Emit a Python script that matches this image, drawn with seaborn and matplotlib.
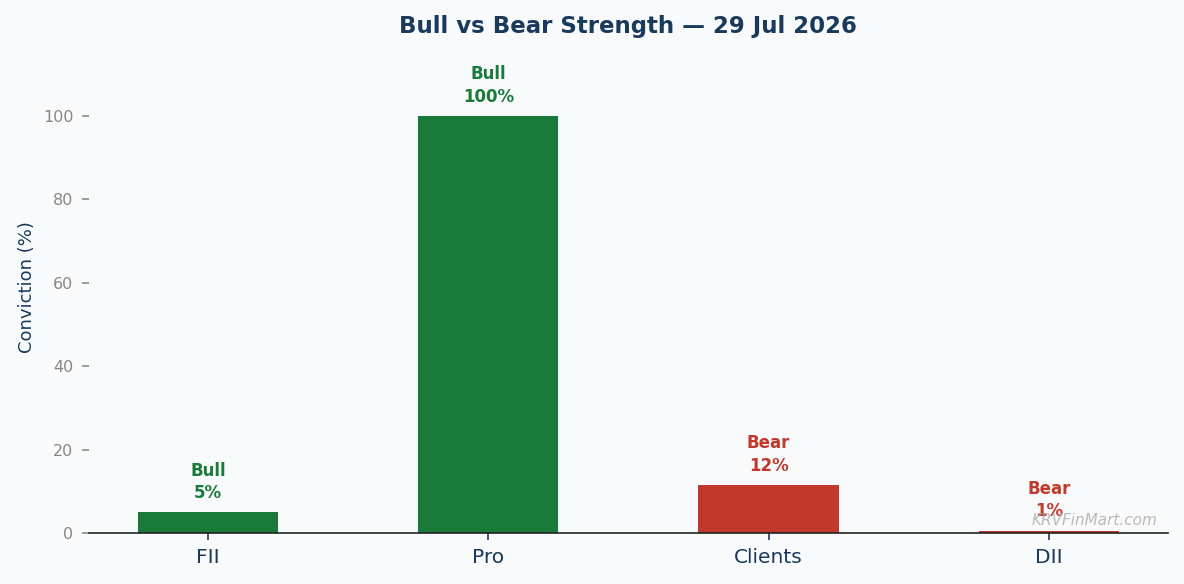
import matplotlib
matplotlib.use('Agg')
import matplotlib.pyplot as plt
import seaborn as sns
import pandas as pd

# Chart data
participants = ['FII', 'Pro', 'Clients', 'DII']
conviction = [5, 100, 11.5, 0.6]
sides = ['Bull', 'Bull', 'Bear', 'Bear']

df = pd.DataFrame({'participant': participants, 'conviction': conviction, 'side': sides})

bg = '#f8fafc'
navy = '#1a3a5c'
palette = {'Bull': '#1a7a3a', 'Bear': '#c0392b'}

sns.set_style('ticks')
plt.rcParams['font.family'] = ['DejaVu Sans']

fig, ax = plt.subplots(figsize=(11.84, 5.84), dpi=100)
fig.patch.set_facecolor(bg)
ax.set_facecolor(bg)

sns.barplot(data=df, x='participant', y='conviction', hue='side', palette=palette,
            width=0.5, dodge=False, legend=False, ax=ax, saturation=1, linewidth=0)

# Labels above bars
for i, row in df.iterrows():
    ax.text(i, row['conviction'] + 2.5, f"{row['side']}\n{row['conviction']:.0f}%",
            ha='center', va='bottom', fontsize=12, fontweight='bold',
            color=palette[row['side']], linespacing=1.3)

ax.set_xlim(-0.425, 3.425)
ax.set_ylim(0, 118)
ax.set_yticks([0, 20, 40, 60, 80, 100])
ax.set_xlabel('')
ax.set_ylabel('Conviction (%)', fontsize=13, color=navy, labelpad=5)
ax.set_title('Bull vs Bear Strength — 29 Jul 2026', fontsize=16.5, fontweight='bold',
             color=navy, pad=6)

for s in ['left', 'top', 'right']:
    ax.spines[s].set_visible(False)
ax.spines['bottom'].set_color('#222222')
ax.spines['bottom'].set_linewidth(1.2)

ax.tick_params(axis='y', colors='#888888', labelsize=11.5, length=5, width=1.2, pad=6)
ax.tick_params(axis='x', colors=navy, labelsize=14.5, length=5, width=1.2, pad=6)

ax.text(0.99, 0.01, 'KRVFinMart.com', transform=ax.transAxes, ha='right', va='bottom',
        fontsize=11, style='italic', color='#aaaaaa', alpha=0.8)

fig.subplots_adjust(left=0.075, right=0.9865, bottom=0.0873, top=0.93)
plt.savefig('out.png', dpi=100, facecolor=bg)
